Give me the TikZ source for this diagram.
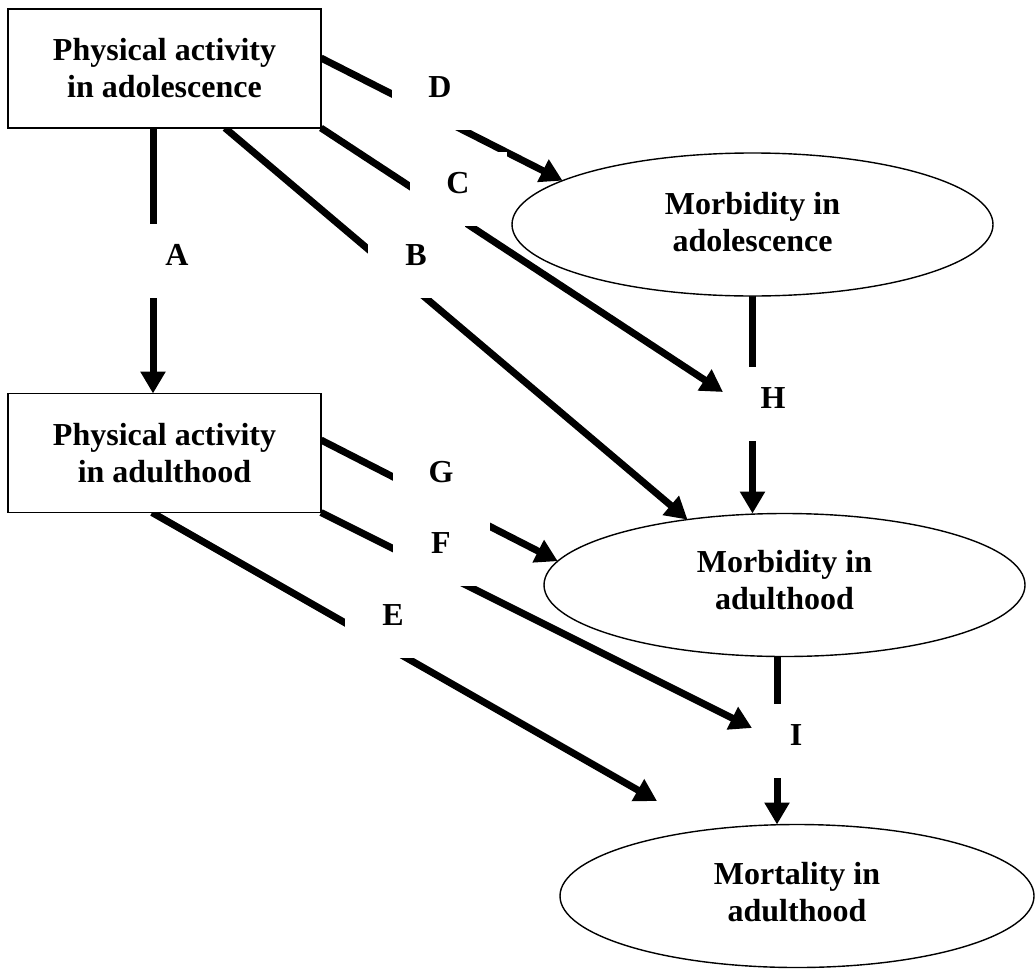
\documentclass[tikz,border=0pt]{standalone}
\usepackage{fontspec}
\setmainfont{Liberation Serif}
\usetikzlibrary{arrows.meta,shapes.geometric,backgrounds}
\begin{document}
\begin{tikzpicture}[x=1pt,y=-1pt,
  every node/.style={font=\fontsize{32}{37}\selectfont\bfseries},
  pabox/.style={draw,line width=1.4pt,fill=white,rectangle,minimum width=313pt,minimum height=119pt,inner sep=0pt,outer sep=0pt,align=center},
  outc/.style={draw,line width=1.4pt,fill=white,ellipse,minimum width=481pt,minimum height=143pt,inner sep=0pt,outer sep=0pt,align=center},
  lbl/.style={fill=white,inner sep=0pt,outer sep=0pt,minimum width=97pt,minimum height=74pt,text height=22pt,text depth=13pt,anchor=base},
  conn/.style={line width=7pt},
  arr/.style={conn,-{Triangle[width=24pt,length=22pt]}}
]
\useasboundingbox (0,0) rectangle (1035,969);

% boxes and ellipses
\node[pabox] (b1) at (164.5,68.5) {Physical activity\\in adolescence};
\node[pabox] (b2) at (164.5,453) {Physical activity\\in adulthood};
\node[outc] (e1) at (752.5,224.5) {Morbidity in\\adolescence\rule[-6pt]{0pt}{6pt}};
\node[outc] (e2) at (784.5,585) {Morbidity in\\adulthood\rule[-10pt]{0pt}{10pt}};
\node[outc,minimum width=474pt] (e3) at (797,896) {Mortality in\\adulthood\rule[-9pt]{0pt}{9pt}};

% path labels (white boxes that cut the arrows)
\node[lbl] (lA) at (177,265) {A};
\node[lbl] (lB) at (416,265) {B};
\node[lbl] (lC) at (458,193) {C};
\node[lbl] (lD) at (440,97) {D};
\node[lbl,minimum width=90pt] (lH) at (773,408) {H};
\node[lbl,minimum height=90pt,text depth=29pt] (lG) at (441,482) {G};
\node[lbl] (lF) at (441,553) {F};
\node[lbl] (lE) at (393,625) {E};
\node[lbl,minimum width=80pt] (lI) at (796,745) {I};

% free arrow ends
\coordinate (tC) at (723,392);
\coordinate (tF) at (752,728);
\coordinate (tE) at (657,801);

\begin{scope}[on background layer]
\draw[arr] ([xshift=-11.5pt]b1.south) -- ([xshift=-11.5pt]b2.north);
\draw[arr] ([xshift=60.5pt]b1.south) -- (e2.146);
\draw[arr] (b1.south east) -- (tC);
\draw[arr] ([yshift=10.5pt]b1.east) -- (e1.167);
\draw[arr] (e1.south) -- (e1.south |- e2.north);
\draw[arr] ([yshift=13pt]b2.east) -- (e2.174);
\draw[arr] (b2.south east) -- (tF);
\draw[arr] ([xshift=-12.5pt]b2.south) -- (tE);
\draw[arr] ([xshift=-7.5pt]e2.south) -- ([xshift=-7.5pt]e2.south |- e3.north);
\end{scope}
\end{tikzpicture}
\end{document}
